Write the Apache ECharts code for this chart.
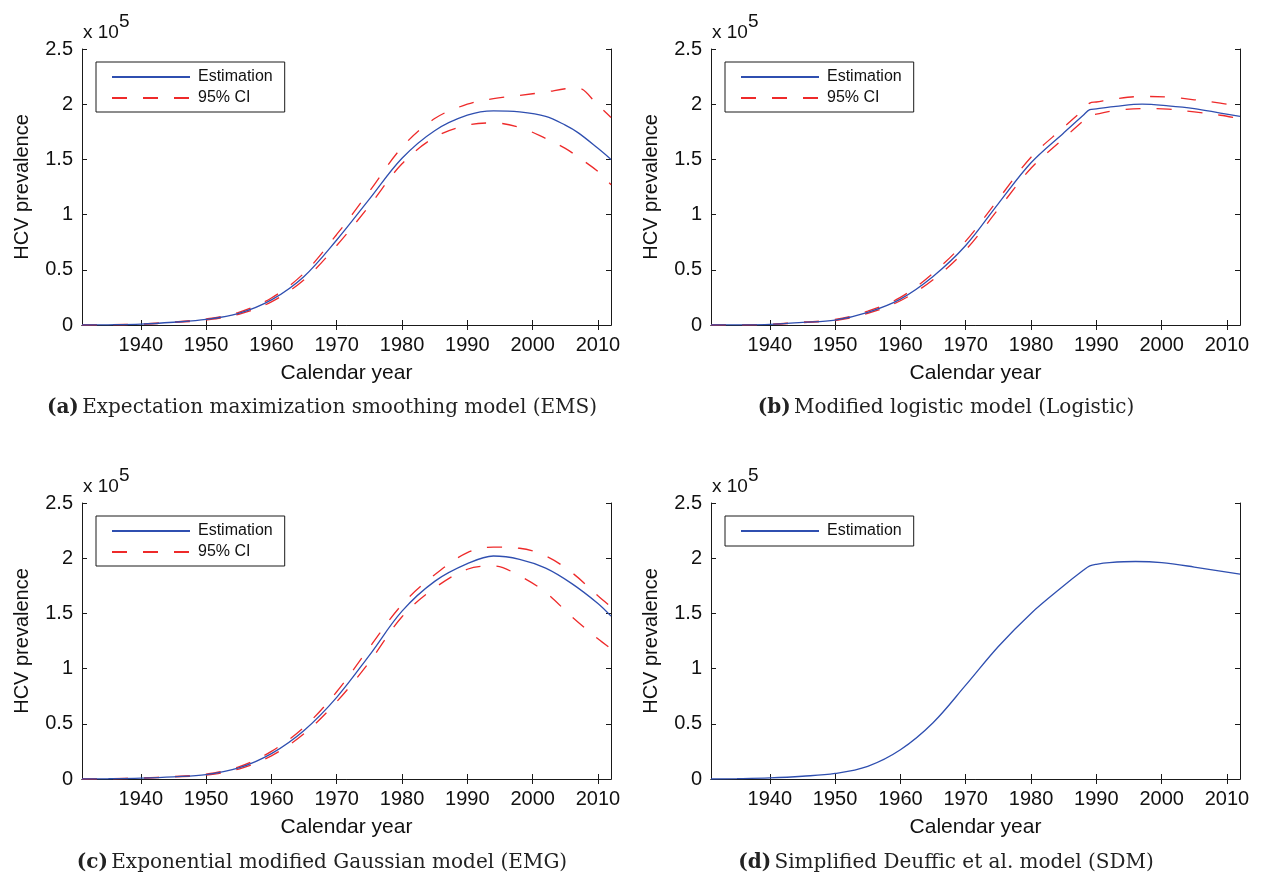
<!DOCTYPE html>
<html>
<head>
<meta charset="utf-8">
<script src="https://cdn.jsdelivr.net/npm/echarts@6/dist/echarts.min.js"></script>
<style>
html,body{margin:0;padding:0;background:#fff;}
#chart{width:1264px;height:878px;}
</style>
</head>
<body>
<div id="chart"></div>
<script>
// ---------- DATA (values in units of 1e5 HCV prevalence) ----------
const xTickYears = [1940, 1950, 1960, 1970, 1980, 1990, 2000, 2010];
const yTicks = [0, 0.5, 1, 1.5, 2, 2.5];

// (a) EMS
const yearsA = [1931, 1935, 1940, 1945, 1950, 1955, 1960, 1965, 1970, 1975, 1980, 1985, 1990, 1994, 1998, 2002, 2005, 2007, 2010, 2012];
const emsEst = [0, 0.002, 0.008, 0.025, 0.05, 0.105, 0.227, 0.44, 0.77, 1.14, 1.51, 1.76, 1.90, 1.94, 1.93, 1.89, 1.81, 1.74, 1.60, 1.50];
const emsUpper = [0, 0.002, 0.009, 0.028, 0.055, 0.115, 0.245, 0.47, 0.82, 1.21, 1.61, 1.87, 2.00, 2.05, 2.08, 2.11, 2.14, 2.145, 1.99, 1.88];
const emsLower = [0, 0.002, 0.007, 0.022, 0.046, 0.097, 0.21, 0.41, 0.72, 1.08, 1.46, 1.70, 1.81, 1.83, 1.79, 1.69, 1.60, 1.52, 1.39, 1.27];

// (b) Logistic
const yearsB = [1931, 1935, 1940, 1945, 1950, 1955, 1960, 1965, 1970, 1975, 1980, 1985, 1988, 1989, 1990, 1993, 1997, 2001, 2005, 2009, 2012];
const logEst = [0, 0.001, 0.006, 0.024, 0.045, 0.115, 0.235, 0.44, 0.72, 1.10, 1.47, 1.74, 1.90, 1.95, 1.957, 1.98, 2.0, 1.985, 1.96, 1.92, 1.89];
const logUpper = [0, 0.001, 0.007, 0.026, 0.05, 0.125, 0.25, 0.47, 0.76, 1.14, 1.52, 1.79, 1.95, 2.01, 2.02, 2.05, 2.07, 2.065, 2.04, 2.01, 1.98];
const logLower = [0, 0.001, 0.005, 0.022, 0.04, 0.105, 0.22, 0.41, 0.68, 1.05, 1.42, 1.69, 1.85, 1.90, 1.91, 1.945, 1.96, 1.955, 1.93, 1.90, 1.87];

// (c) EMG
const yearsC = [1931, 1935, 1940, 1945, 1950, 1955, 1960, 1965, 1970, 1975, 1980, 1985, 1990, 1994, 1998, 2002, 2006, 2010, 2012];
const emgEst = [0, 0.002, 0.008, 0.02, 0.04, 0.10, 0.23, 0.44, 0.74, 1.12, 1.52, 1.79, 1.95, 2.02, 1.99, 1.91, 1.77, 1.59, 1.475];
const emgUpper = [0, 0.002, 0.009, 0.023, 0.045, 0.11, 0.25, 0.47, 0.79, 1.19, 1.58, 1.85, 2.05, 2.10, 2.09, 2.02, 1.87, 1.66, 1.56];
const emgLower = [0, 0.002, 0.007, 0.018, 0.036, 0.09, 0.21, 0.41, 0.70, 1.06, 1.47, 1.73, 1.90, 1.93, 1.84, 1.69, 1.47, 1.27, 1.18];

// (d) SDM
const yearsD = [1931, 1935, 1940, 1945, 1950, 1955, 1960, 1965, 1970, 1975, 1980, 1985, 1988, 1989, 1990, 1992, 1996, 2000, 2005, 2012];
const sdmEst = [0, 0.003, 0.01, 0.025, 0.05, 0.115, 0.265, 0.51, 0.85, 1.20, 1.50, 1.75, 1.89, 1.93, 1.945, 1.96, 1.97, 1.96, 1.92, 1.855];

const captions = [
  ['(a)', 'Expectation maximization smoothing model (EMS)'],
  ['(b)', 'Modified logistic model (Logistic)'],
  ['(c)', 'Exponential modified Gaussian model (EMG)'],
  ['(d)', 'Simplified Deuffic et al. model (SDM)']
];
const legendNames = ['Estimation', '95% CI'];

// ---------- LAYOUT ----------
const layout = [
  { left: 82, top: 49, capX: 322, capY: 408 },
  { left: 711, top: 49, capX: 946, capY: 408 },
  { left: 82, top: 503, capX: 322, capY: 863 },
  { left: 711, top: 503, capX: 946, capY: 863 }
];
const W = 529, H = 276;
const BLUE = '#2f4fb0', RED = '#ee2a2a', AX = '#1a1a1a';
const FONT = '"Liberation Sans", Arial, Helvetica, sans-serif';
const SERIF = '"DejaVu Serif", serif';

const panelData = [
  { years: yearsA, est: emsEst, up: emsUpper, lo: emsLower },
  { years: yearsB, est: logEst, up: logUpper, lo: logLower },
  { years: yearsC, est: emgEst, up: emgUpper, lo: emgLower },
  { years: yearsD, est: sdmEst }
];

const grids = [], xAxes = [], yAxes = [], series = [], legends = [], graphics = [];
const pair = (xs, ys) => xs.map((x, i) => [x, ys[i]]);

layout.forEach((L, i) => {
  grids.push({ left: L.left, top: L.top, width: W, height: H, containLabel: false });
  const axLine = { show: true, lineStyle: { color: AX, width: 1 } };
  const tick = { show: true, inside: true, length: 5, lineStyle: { color: AX, width: 1 } };
  xAxes.push({
    type: 'value', gridIndex: i, position: 'bottom', min: 1931, max: 2012,
    axisLine: axLine, splitLine: { show: false },
    axisTick: Object.assign({ customValues: xTickYears }, tick),
    axisLabel: { customValues: xTickYears, formatter: v => String(v), color: '#111', fontSize: 20, fontFamily: FONT, margin: 10 },
    name: 'Calendar year', nameLocation: 'middle', nameGap: 38,
    nameTextStyle: { color: '#111', fontSize: 21, fontFamily: FONT }
  });
  xAxes.push({
    type: 'value', gridIndex: i, position: 'top', min: 1931, max: 2012,
    axisLine: axLine, splitLine: { show: false },
    axisTick: Object.assign({ customValues: xTickYears }, tick),
    axisLabel: { show: false }
  });
  yAxes.push({
    type: 'value', gridIndex: i, position: 'left', min: 0, max: 2.5, interval: 0.5,
    axisLine: axLine, splitLine: { show: false }, axisTick: tick,
    axisLabel: { color: '#111', fontSize: 20, fontFamily: FONT, margin: 9 },
    name: 'HCV prevalence', nameLocation: 'middle', nameGap: 50, nameRotate: 90,
    nameTextStyle: { color: '#111', fontSize: 20, fontFamily: FONT }
  });
  yAxes.push({
    type: 'value', gridIndex: i, position: 'right', min: 0, max: 2.5, interval: 0.5,
    axisLine: axLine, splitLine: { show: false }, axisTick: tick,
    axisLabel: { show: false }
  });

  const P = panelData[i];
  const common = { xAxisIndex: 2 * i, yAxisIndex: 2 * i, symbol: 'none', showSymbol: false, smooth: 0.35, z: 3 };
  if (P.up) {
    series.push(Object.assign({ type: 'line', name: legendNames[1], data: pair(P.years, P.up),
      lineStyle: { color: RED, width: 1.3, type: [15, 16] }, itemStyle: { color: RED } }, common));
    series.push(Object.assign({ type: 'line', name: legendNames[1], data: pair(P.years, P.lo),
      lineStyle: { color: RED, width: 1.3, type: [15, 16] }, itemStyle: { color: RED } }, common));
  }
  series.push(Object.assign({ type: 'line', name: legendNames[0], data: pair(P.years, P.est),
    lineStyle: { color: BLUE, width: 1.3 }, itemStyle: { color: BLUE } }, common, { z: 4 }));

  legends.push({
    left: L.left + 14, top: L.top + 13, orient: 'vertical',
    data: P.up ? legendNames : [legendNames[0]],
    selectedMode: false,
    borderColor: AX, borderWidth: 1, backgroundColor: '#fff',
    padding: P.up ? [7, 12, 6, 15] : [7, 12, 7, 15], itemGap: 5, itemWidth: 78, itemHeight: 14,
    itemStyle: { opacity: 0 },
    textStyle: { color: '#111', fontSize: 16, fontFamily: FONT, padding: [0, 0, 0, 3] }
  });

  graphics.push({
    type: 'text', left: L.left + 1, top: L.top - 37,
    style: { text: '{a|x 10}{s|5}', rich: {
      a: { fontSize: 19, fontFamily: FONT, fill: '#111', padding: [13, 0, 0, 0] },
      s: { fontSize: 19, fontFamily: FONT, fill: '#111', padding: [0, 0, 10, 0] } } }
  });
  graphics.push({
    type: 'text', x: L.capX, y: L.capY,
    style: { text: '{b|' + captions[i][0] + '} {n|' + captions[i][1] + '}',
      align: 'center', verticalAlign: 'middle',
      rich: {
        b: { fontSize: 20, fontFamily: SERIF, fontWeight: 'bold', fill: '#222' },
        n: { fontSize: 20, fontFamily: SERIF, fill: '#222' } } }
  });
});

const chart = echarts.init(document.getElementById('chart'), null, { renderer: 'canvas' });
chart.setOption({
  animation: false,
  backgroundColor: '#fff',
  grid: grids, xAxis: xAxes, yAxis: yAxes, series: series, legend: legends,
  graphic: graphics
});
</script>
</body>
</html>
